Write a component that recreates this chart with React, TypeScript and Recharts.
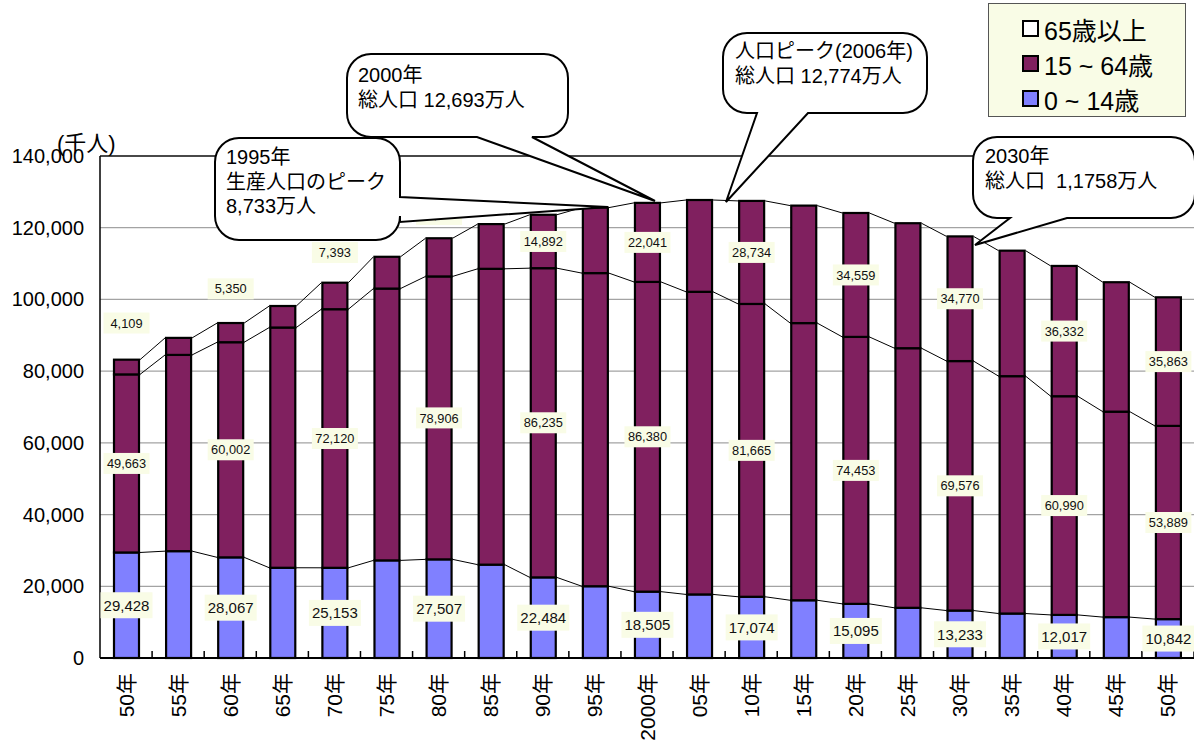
import React from 'react';
import { BarChart, Bar, XAxis, YAxis, CartesianGrid, ReferenceLine, LabelList, Legend } from 'recharts';

// categories (年)
const years = ['50年', '55年', '60年', '65年', '70年', '75年', '80年', '85年', '90年', '95年', '2000年',
  '05年', '10年', '15年', '20年', '25年', '30年', '35年', '40年', '45年', '50年'];

// 千人
const young = [29428, 29798, 28067, 25166, 25153, 27221, 27507, 26033, 22484, 20014, 18505,
  17727, 17074, 16100, 15095, 14000, 13233, 12400, 12017, 11400, 10842];
const working = [49663, 54729, 60002, 67000, 72120, 75807, 78906, 82506, 86235, 87330, 86380,
  84400, 81665, 77300, 74453, 72400, 69576, 66200, 60990, 57300, 53889];
const elderly = [4109, 4747, 5350, 6000, 7393, 8865, 10647, 12468, 14892, 18261, 22041,
  25600, 28734, 32765, 34559, 34855, 34770, 35000, 36332, 36100, 35863];

// which years carry value labels
const labeled = [true, false, true, false, true, false, true, false, true, false, true,
  false, true, false, true, false, true, false, true, false, true];

const yTicks = [0, 20000, 40000, 60000, 80000, 100000, 120000, 140000];

const MAROON = '#80205F';
const BLUE = '#8080FF';
const LABEL_BG = '#F9FCE6';
const FONT = '"Liberation Sans", Arial, "Noto Sans CJK JP", sans-serif';

const data = years.map((year, i) => ({
  year,
  young: young[i],
  working: working[i],
  elderly: elderly[i],
}));

const fmt = (v: number) => v.toLocaleString('en-US');

// remembers the right/top corner of each segment so the next bar can draw the series line
const edges: Record<string, { x: number; y: number }[]> = {};

function segmentShape(key: string, fill: string) {
  return (props: any) => {
    const { x, y, width, height, index } = props;
    if (!edges[key]) edges[key] = [];
    edges[key][index] = { x: x + width, y };
    const prev = index > 0 ? edges[key][index - 1] : undefined;
    return (
      <g>
        <rect x={x} y={y} width={width} height={height} fill={fill} stroke="#000" strokeWidth={2.2} />
        {prev && <line x1={prev.x + 1} y1={prev.y} x2={x - 1} y2={y} stroke="#000" strokeWidth={1} />}
      </g>
    );
  };
}

function valueLabel(kind: 'young' | 'working' | 'elderly') {
  return (props: any) => {
    const { index, value } = props;
    if (value == null || !labeled[index]) return null;
    const vb = props.viewBox || props;
    const { x, y, width, height } = vb;
    const cx = x + width / 2;
    let cy = y + height / 2;
    // thin 65+ segments get their label lifted above the bar
    if (kind === 'elderly' && height < 45) cy = y - 20 - (45 - height) * 0.55;
    const big = kind === 'young';
    const w = big ? 52 : 46;
    const h = big ? 26 : 21;
    return (
      <g>
        <rect x={cx - w / 2} y={cy - h / 2} width={w} height={h} fill={LABEL_BG} />
        <text x={cx} y={cy} dy="0.36em" textAnchor="middle" fontSize={big ? 15 : 12.8}
          fontFamily={FONT} fill="#111">{fmt(value)}</text>
      </g>
    );
  };
}

const XTick = (props: any) => {
  const { x, y, payload } = props;
  const half = payload && payload.offset ? payload.offset : 26;
  const ty = y + 15;
  return (
    <g>
      <line x1={x + half} y1={y} x2={x + half} y2={y - 7} stroke="#000" strokeWidth={1.5} />
      <text x={x} y={ty} transform={`rotate(-90 ${x} ${ty})`} textAnchor="end" dy="0.36em"
        fontSize={21} fontFamily={FONT} fill="#000">{payload.value}</text>
    </g>
  );
};

const YTick = (props: any) => {
  const { x, y, payload } = props;
  return (
    <text x={x} y={y} dy={7} textAnchor="end" fontSize={20} fontFamily={FONT} fill="#000">
      {fmt(payload.value)}
    </text>
  );
};

const legendItems = [
  { label: '65歳以上', color: '#FFFFFF' },
  { label: '15 ~ 64歳', color: MAROON },
  { label: '0 ~ 14歳', color: BLUE },
];

const LegendBox = () => (
  <div style={{
    width: 198, height: 114, background: LABEL_BG, border: '1px solid #555',
    boxSizing: 'border-box', padding: '7px 0 0 33px', fontFamily: FONT,
  }}>
    {legendItems.map((it) => (
      <div key={it.label} style={{ display: 'flex', alignItems: 'center', height: 35 }}>
        <span style={{
          display: 'inline-block', width: 13, height: 13, background: it.color,
          border: '2px solid #000', marginRight: 5,
        }} />
        <span style={{ fontSize: 25, color: '#000', whiteSpace: 'nowrap' }}>{it.label}</span>
      </div>
    ))}
  </div>
);

type Tail = { side: 'right' | 'bottom'; a: number; b: number; tx: number; ty: number };
type Callout = { x: number; y: number; w: number; h: number; lines: string[]; tail: Tail; tx: number; ty: number };

const callouts: Callout[] = [
  { x: 347, y: 54, w: 221, h: 83, lines: ['2000年', '総人口 12,693万人'], tx: 358, ty: 82,
    tail: { side: 'bottom', a: 477, b: 532, tx: 655, ty: 201 } },
  { x: 215, y: 138, w: 185, h: 102, lines: ['1995年', '生産人口のピーク', '8,733万人'], tx: 226, ty: 164,
    tail: { side: 'right', a: 197, b: 222, tx: 608, ty: 207 } },
  { x: 723, y: 33, w: 204, h: 80, lines: ['人口ピーク(2006年)', '総人口 12,774万人'], tx: 735, ty: 58,
    tail: { side: 'bottom', a: 757, b: 808, tx: 726, ty: 202 } },
  { x: 973, y: 137, w: 222, h: 81, lines: ['2030年', '総人口\u00a0\u00a01,1758万人'], tx: 985, ty: 163,
    tail: { side: 'bottom', a: 1010, b: 1067, tx: 975, ty: 245 } },
];

function calloutPath(c: Callout) {
  const r = 24;
  const { x, y, w, h, tail } = c;
  const x2 = x + w;
  const y2 = y + h;
  let d = `M ${x + r} ${y} L ${x2 - r} ${y} A ${r} ${r} 0 0 1 ${x2} ${y + r}`;
  if (tail.side === 'right') d += ` L ${x2} ${tail.a} L ${tail.tx} ${tail.ty} L ${x2} ${tail.b}`;
  d += ` L ${x2} ${y2 - r} A ${r} ${r} 0 0 1 ${x2 - r} ${y2}`;
  if (tail.side === 'bottom') d += ` L ${tail.b} ${y2} L ${tail.tx} ${tail.ty} L ${tail.a} ${y2}`;
  d += ` L ${x + r} ${y2} A ${r} ${r} 0 0 1 ${x} ${y2 - r} L ${x} ${y + r} A ${r} ${r} 0 0 1 ${x + r} ${y} Z`;
  return d;
}

export default function App() {
  return (
    <div style={{ position: 'absolute', left: 0, top: 0, width: 1194, height: 744, background: '#fff' }}>
      <BarChart
        width={1194}
        height={744}
        data={data}
        margin={{ top: 156, right: 0, bottom: 0, left: 0 }}
        barSize={25}
      >
        <CartesianGrid vertical={false} stroke="#a3a3a3" strokeWidth={1.3} />
        <XAxis
          dataKey="year"
          height={86}
          interval={0}
          tickSize={0}
          tickMargin={0}
          tick={<XTick />}
          axisLine={{ stroke: '#000', strokeWidth: 2 }}
          tickLine={false}
        />
        <YAxis
          width={100}
          domain={[0, 140000]}
          ticks={yTicks}
          tickSize={0}
          tickMargin={16}
          tick={<YTick />}
          axisLine={{ stroke: '#000', strokeWidth: 1.5 }}
          tickLine={false}
          interval={0}
        />
        <ReferenceLine y={140000} stroke="#222" strokeWidth={1.3} />
        <Legend
          layout="horizontal"
          verticalAlign="middle"
          align="center"
          wrapperStyle={{ top: 3, left: 988, width: 198, height: 114 }}
          content={() => <LegendBox />}
        />
        <Bar dataKey="young" stackId="pop" fill={BLUE} isAnimationActive={false} shape={segmentShape('young', BLUE)}>
          <LabelList dataKey="young" content={valueLabel('young')} />
        </Bar>
        <Bar dataKey="working" stackId="pop" fill={MAROON} isAnimationActive={false} shape={segmentShape('working', MAROON)}>
          <LabelList dataKey="working" content={valueLabel('working')} />
        </Bar>
        <Bar dataKey="elderly" stackId="pop" fill={MAROON} isAnimationActive={false} shape={segmentShape('elderly', MAROON)}>
          <LabelList dataKey="elderly" content={valueLabel('elderly')} />
        </Bar>
      </BarChart>

      <svg width={1194} height={744} style={{ position: 'absolute', left: 0, top: 0, pointerEvents: 'none' }}>
        <text x={57} y={151} fontSize={22} fontFamily={FONT} fill="#000">(千人)</text>
        {callouts.map((c) => (
          <g key={c.lines[0]}>
            <path d={calloutPath(c)} fill="#fff" stroke="#000" strokeWidth={2} />
            <text fontSize={20} fontFamily={FONT} fill="#000">
              {c.lines.map((ln, i) => (
                <tspan key={i} x={c.tx} y={c.ty + i * 24.5}>{ln}</tspan>
              ))}
            </text>
          </g>
        ))}
      </svg>
    </div>
  );
}
